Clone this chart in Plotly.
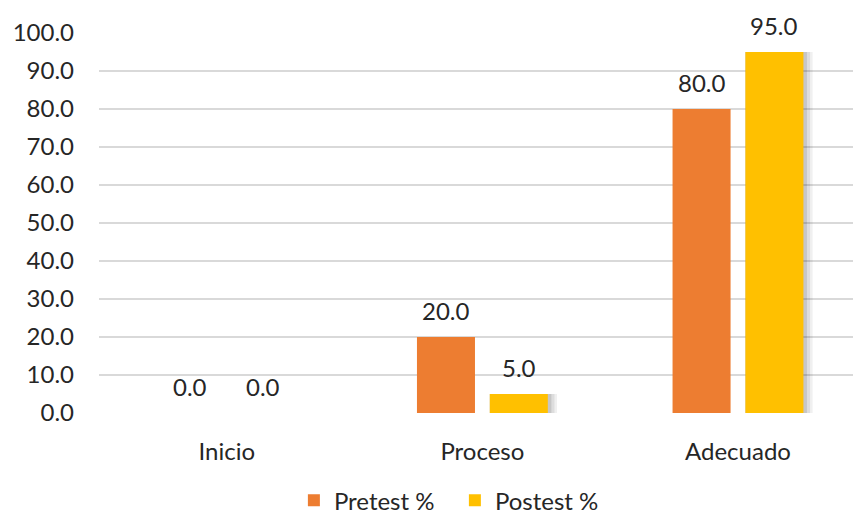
import plotly.graph_objects as go

categories = ["Inicio", "Proceso", "Adecuado"]
pretest = [0.0, 20.0, 80.0]
postest = [0.0, 5.0, 95.0]
series_names = ["Pretest %", "Postest %"]
tick_vals = [0, 10, 20, 30, 40, 50, 60, 70, 80, 90, 100]
tick_text = [f"{v:.1f}" for v in tick_vals]

colors = ["#ED7D31", "#FFC000"]
font_family = "Lato, 'Open Sans', sans-serif"
text_color = "#262626"
fs = 24

bar_w = 0.227
centers = [-0.1425, 0.1425]

fig = go.Figure()
# soft drop shadow behind the postest bars
for extra, alpha in [(0.036, 0.06), (0.026, 0.08), (0.014, 0.10)]:
    fig.add_trace(go.Bar(
        x=categories, y=postest, showlegend=False, hoverinfo="skip",
        offset=centers[1] - bar_w / 2, width=bar_w + extra,
        marker=dict(color=f"rgba(0,0,0,{alpha})", line=dict(width=0)),
    ))
for name, vals, col, c in zip(series_names, [pretest, postest], colors, centers):
    fig.add_trace(go.Bar(
        x=categories, y=vals, name=name, offset=c - bar_w / 2, width=bar_w,
        marker=dict(color=col, line=dict(width=0)),
    ))

# data labels above bars
for vals, c in zip([pretest, postest], centers):
    for i, v in enumerate(vals):
        fig.add_annotation(
            x=i + c, y=v, xref="x", yref="y", text=f"{v:.1f}",
            showarrow=False, yanchor="middle", yshift=27,
            font=dict(family=font_family, size=fs, color=text_color),
        )

fig.update_layout(
    width=854, height=515,
    margin=dict(l=99, r=1, t=33, b=102, autoexpand=False),
    paper_bgcolor="white", plot_bgcolor="white",
    barmode="overlay",
    font=dict(family=font_family, size=fs, color=text_color),
    showlegend=True,
    legend=dict(orientation="h", x=0.472, xanchor="center", y=-0.29, yanchor="bottom",
                font=dict(family=font_family, size=fs, color=text_color),
                itemwidth=30, entrywidth=116, traceorder="normal"),
    xaxis=dict(range=[-0.5, 2.45], showgrid=False, showline=False, zeroline=False,
               ticks="", ticklabelstandoff=22, automargin=False,
               tickfont=dict(family=font_family, size=fs, color=text_color)),
    yaxis=dict(range=[0, 100], tickvals=tick_vals, ticktext=tick_text,
               showgrid=True, gridcolor="#d9d9d9", gridwidth=1.5, automargin=False,
               zeroline=False, showline=False, ticks="", ticklabelstandoff=24,
               tickfont=dict(family=font_family, size=fs, color=text_color)),
)

fig.write_html("out.html")
